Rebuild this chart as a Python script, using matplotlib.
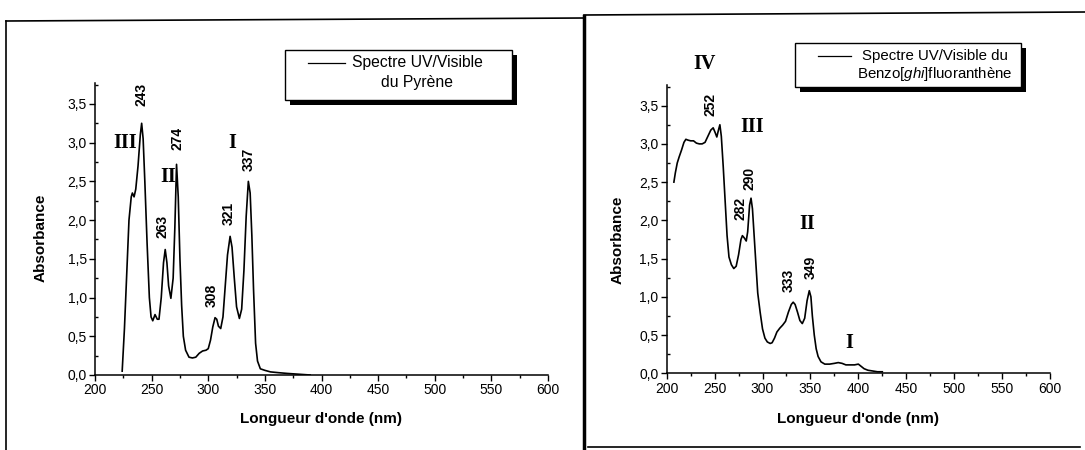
import matplotlib
matplotlib.use("Agg")
import matplotlib.pyplot as plt
from matplotlib.lines import Line2D
from matplotlib.patches import Rectangle
from matplotlib.ticker import MultipleLocator, FuncFormatter

plt.rcParams["font.family"] = ["Liberation Sans", "DejaVu Sans"]
plt.rcParams["mathtext.fontset"] = "custom"
plt.rcParams["mathtext.it"] = "Liberation Sans:italic"
plt.rcParams["mathtext.rm"] = "Liberation Sans"

# --- data ---
pyr_wl = [224, 226, 228, 230, 232, 233, 234.5, 236, 238, 240, 241.2, 242.5, 244,
          246, 248, 249.5, 251, 253, 255, 256.5, 258.5, 260.5, 262, 263.5, 265,
          267, 269, 270.5, 272, 273.5, 275, 276.5, 278, 280, 283, 286, 289, 292,
          295, 298, 300, 302, 304, 306, 307.5, 309, 311, 313, 315, 317, 319.3,
          321, 323, 325, 327.5, 329.5, 331.5, 333.5, 335.4, 337, 338.5, 340,
          341.8, 343.5, 346, 350, 355, 362, 370, 380, 390]
pyr_abs = [0.05, 0.6, 1.3, 2.0, 2.3, 2.35, 2.30, 2.40, 2.7, 3.1, 3.25, 3.05, 2.5,
           1.7, 1.0, 0.75, 0.70, 0.78, 0.72, 0.72, 1.0, 1.45, 1.62, 1.45, 1.15,
           0.99, 1.25, 1.9, 2.72, 2.3, 1.5, 0.9, 0.5, 0.32, 0.23, 0.22, 0.23, 0.28,
           0.31, 0.32, 0.34, 0.45, 0.62, 0.74, 0.72, 0.63, 0.60, 0.75, 1.15, 1.55,
           1.79, 1.65, 1.25, 0.88, 0.73, 0.85, 1.35, 2.05, 2.50, 2.35, 1.8, 1.1,
           0.41, 0.18, 0.08, 0.06, 0.04, 0.03, 0.02, 0.01, 0.0]

bgf_wl = [207.5, 209, 211, 213, 215.5, 218, 220, 222, 225, 228, 231, 234, 237,
          240, 243, 246, 248.5, 250.5, 252.3, 254, 255.5, 257, 259, 261, 263, 265,
          267.5, 270, 272.5, 275, 277.5, 279, 281, 283, 284.5, 286.5, 288, 289.5,
          291, 293, 295, 297.5, 300, 302.5, 305, 308, 310, 312.5, 315, 318, 321,
          324, 327, 330, 332, 334, 336.5, 339, 341.5, 344, 346.5, 348.8, 350.5,
          352, 354, 356, 358, 361, 365, 370, 375, 379, 383, 387, 391, 396, 400,
          403, 406, 410, 415, 420, 425]
bgf_abs = [2.50, 2.62, 2.75, 2.83, 2.92, 3.02, 3.06, 3.05, 3.04, 3.04, 3.01, 3.00,
           3.00, 3.02, 3.10, 3.18, 3.21, 3.15, 3.09, 3.18, 3.25, 3.10, 2.70, 2.25,
           1.80, 1.52, 1.42, 1.37, 1.40, 1.55, 1.75, 1.80, 1.77, 1.73, 1.85, 2.20,
           2.29, 2.15, 1.85, 1.45, 1.05, 0.80, 0.58, 0.46, 0.41, 0.39, 0.40, 0.46,
           0.54, 0.59, 0.63, 0.68, 0.80, 0.90, 0.93, 0.90, 0.80, 0.69, 0.65, 0.72,
           0.95, 1.08, 1.00, 0.75, 0.50, 0.32, 0.22, 0.15, 0.12, 0.12, 0.13, 0.14,
           0.13, 0.11, 0.11, 0.11, 0.12, 0.09, 0.06, 0.04, 0.03, 0.02, 0.02]

# peak annotations: (label, x, y)
pyr_peaks = [("243", 241, 3.62), ("274", 273, 3.06), ("263", 260, 1.92),
             ("308", 303, 1.03), ("321", 318.4, 2.09), ("337", 336, 2.78)]
pyr_bands = [("III", 226.3, 2.99), ("II", 264.3, 2.56), ("I", 321.3, 2.99)]
bgf_peaks = [("252", 245.4, 3.51), ("290", 286.6, 2.55), ("282", 276.8, 2.16),
             ("333", 327.5, 1.21), ("349", 350.2, 1.38)]
bgf_bands = [("IV", 239.1, 4.04), ("III", 289.1, 3.22), ("II", 346.8, 1.95),
             ("I", 390.4, 0.39)]

W, H = 1085, 450
fig = plt.figure(figsize=(W / 100, H / 100), dpi=100)


def fpt(x, y):
    return x / W, 1 - y / H


def comma(v, pos):
    return f"{v:.1f}".replace(".", ",")


def setup_axes(rect, ylabel_xy, xlabel_y):
    ax = fig.add_axes(rect)
    ax.spines["top"].set_visible(False)
    ax.spines["right"].set_visible(False)
    ax.set_xlim(200, 600)
    ax.set_ylim(0, 3.77)
    ax.xaxis.set_major_locator(MultipleLocator(50))
    ax.xaxis.set_minor_locator(MultipleLocator(25))
    ax.yaxis.set_major_locator(MultipleLocator(0.5))
    ax.yaxis.set_minor_locator(MultipleLocator(0.25))
    ax.yaxis.set_major_formatter(FuncFormatter(comma))
    ax.tick_params(which="major", direction="out", length=4, width=1,
                   labelsize=10, pad=2)
    ax.tick_params(axis="x", which="minor", direction="out", length=2, width=1)
    ax.tick_params(axis="y", which="minor", direction="in", length=2, width=1)
    ax.set_ylabel("Absorbance", fontsize=11, fontweight="bold")
    ax.set_xlabel("Longueur d'onde (nm)", fontsize=11, fontweight="bold")
    ax.yaxis.set_label_coords(*ylabel_xy)
    ax.xaxis.set_label_coords(0.5, xlabel_y)
    for s in ("left", "bottom"):
        ax.spines[s].set_linewidth(1.1)
    return ax


def annotate(ax, peaks, bands):
    for lab, x, y in peaks:
        ax.text(x, y, lab, rotation=90, ha="center", va="center",
                fontsize=10, fontweight="bold", clip_on=False)
    for lab, x, y in bands:
        ax.text(x, y, lab, ha="center", va="center", fontsize=14.5,
                fontweight="bold", family="Liberation Serif", clip_on=False)


def legend_box(x0, y0, x1, y1, line_x, line_y, lines, text_x, size):
    # shadow then white box, all in pixel positions of the page
    w, h = (x1 - x0) / W, (y1 - y0) / H
    fig.add_artist(Rectangle(fpt(x0 + 5, y1 + 5), w, h,
                             transform=fig.transFigure, facecolor="black",
                             edgecolor="none"))
    fig.add_artist(Rectangle(fpt(x0, y1), w, h,
                             transform=fig.transFigure, facecolor="white",
                             edgecolor="black", linewidth=1))
    a, b = fpt(line_x[0], line_y)
    c, _ = fpt(line_x[1], line_y)
    fig.add_artist(Line2D([a, c], [b, b], transform=fig.transFigure,
                          color="black", linewidth=0.9))
    for txt, ty in lines:
        tx, tyf = fpt(text_x, ty)
        fig.text(tx, tyf, txt, ha="center", va="center", fontsize=size)


# frames around the two panels (scanned page)
frame_segments = [((6, 21), (584, 18), 1.2), ((6, 21), (6, 450), 1.2),
                  ((584, 16), (584, 450), 2.5), ((584, 15), (1085, 12), 1.2),
                  ((588, 447), (1080, 447), 1.2)]
for p0, p1, lw in frame_segments:
    a = fpt(*p0)
    b = fpt(*p1)
    fig.add_artist(Line2D([a[0], b[0]], [a[1], b[1]], transform=fig.transFigure,
                          color="black", linewidth=lw))

# left panel: pyrene
ax1 = setup_axes([95 / W, 1 - 375 / H, 453 / W, 292 / H], (-0.104, 0.469), -0.127)
ax1.plot(pyr_wl, pyr_abs, color="black", linewidth=1.2)
annotate(ax1, pyr_peaks, pyr_bands)
legend_box(285, 50, 512, 100, (308, 345), 63, [("Spectre UV/Visible", 63),
                                               ("du Pyrène", 82)], 417, 11.3)

# right panel: benzo[ghi]fluoranthene
ax2 = setup_axes([666.7 / W, 1 - 373.3 / H, 383.3 / W, 288.3 / H],
                 (-0.109, 0.462), -0.134)
ax2.plot(bgf_wl, bgf_abs, color="black", linewidth=1.2)
annotate(ax2, bgf_peaks, bgf_bands)
legend_box(795, 43, 1021, 87, (818, 851), 56,
           [("Spectre UV/Visible du", 56),
            ("Benzo[$\\mathit{ghi}$]fluoranthène", 74)], 935, 10.8)

fig.savefig("out.png", dpi=100)
